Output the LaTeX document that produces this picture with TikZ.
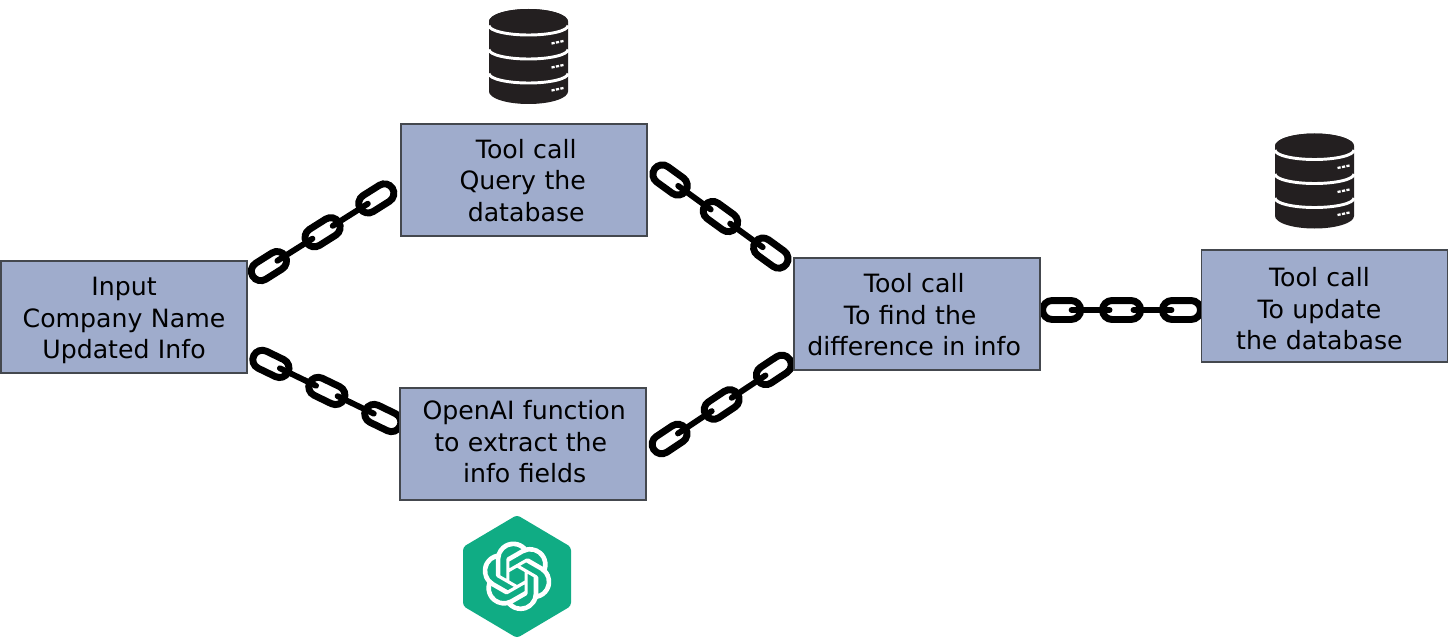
\documentclass[tikz,border=0pt]{standalone}
\usepackage{fontspec}
\setmainfont{DejaVu Sans}
\usetikzlibrary{calc,shapes.misc,svg.path}
\definecolor{boxfill}{HTML}{9FACCC}
\definecolor{boxline}{HTML}{44484E}
\definecolor{dbdark}{HTML}{231F20}
\definecolor{aigreen}{HTML}{10AC84}
\newcommand\ydy{0pt}
\newcommand\shl[2]{\raisebox{\ydy}[\height][\depth]{\makebox[0pt]{\kern\dimexpr #1pt*3/2\relax #2}}}
\newcommand\chainconn[2]{%
  \path (#1) -- node[pos=0,sloped,chainlink] (#1-a) {} node[pos=.5,sloped,chainlink] (#1-b) {} node[pos=1,sloped,chainlink] (#1-c) {} (#2);
  \draw[chainbar] ($(#1)!7.5pt!(#2)$) -- ($(#1)!.5!(#2)!9pt!(#1)$);
  \draw[chainbar] ($(#1)!.5!(#2)!9pt!(#2)$) -- ($(#2)!7.5pt!(#1)$);
}
\tikzset{
  x=.75pt,y=-.75pt,
  flowbox/.style={draw=boxline,fill=boxfill,line width=1.35pt,inner sep=0pt,minimum width=184.5pt,minimum height=84pt,text width=184.5pt,align=center,font=\fontsize{18.9}{23.6}\selectfont},
  chainlink/.style={draw=black,fill=white,line width=5.2pt,shape=rounded rectangle,inner sep=0pt,minimum width=28.6pt,minimum height=14.2pt},
  chainbar/.style={draw=black,line width=4.4pt,line cap=round},
  dbgap/.style={draw=white,line width=2.2pt},
  dbdots/.style={draw=white,line width=1.7pt,dash pattern=on 2.4pt off 1pt},
  pics/database/.style={code={
    \fill[dbdark] (-39.5,-35) arc (180:360:39.5 and 12.5) -- (39.5,35) arc (0:180:39.5 and 12.5) -- cycle;
    \fill[dbdark] (0,-35) ellipse (39.5 and 12.5);
    \draw[dbgap] (-39.5,-31) arc (180:0:39.5 and 9.5);
    \draw[dbgap] (-39.5,-7) arc (180:0:39.5 and 9.5);
    \draw[dbgap] (-39.5,17) arc (180:0:39.5 and 9.5);
    \draw[dbdots] (23,-13) -- (35,-15.5);
    \draw[dbdots] (23,11) -- (35,8.5);
    \draw[dbdots] (23,34) -- (35,31.5);
  }},
}
\begin{document}
\begin{tikzpicture}
\useasboundingbox (0,0) rectangle (1448,638);
\coordinate (inputpos) at (124,317);
\coordinate (querypos) at (524.2,180);
\coordinate (extractpos) at (522.7,444);
\coordinate (findpos) at (916.7,314);
\coordinate (updatepos) at (1324.4,306);

\path[overlay] (inputpos) node[flowbox,draw=none,fill=none] (input0) {}
  (querypos) node[flowbox,draw=none,fill=none] (query0) {}
  (extractpos) node[flowbox,draw=none,fill=none] (extract0) {}
  (findpos) node[flowbox,draw=none,fill=none] (find0) {}
  (updatepos) node[flowbox,draw=none,fill=none] (update0) {};

\coordinate (c1a) at ($(input0.north east)+(21,6)$);
\coordinate (c1b) at ($(query0.south west)+(-24,-38.5)$);
\coordinate (c2a) at ($(query0.east)+(22,0)$);
\coordinate (c2b) at ($(find0.north west)+(-22,-4)$);
\coordinate (c3a) at ($(input0.south east)+(23,-10)$);
\coordinate (c3b) at ($(extract0.west)+(-16,-26)$);
\coordinate (c4a) at ($(extract0.east)+(23,-5)$);
\coordinate (c4b) at ($(find0.south west)+(-19,-1)$);
\coordinate (c5a) at ($(find0.east)+(21,-4)$);
\coordinate (c5b) at ($(update0.west)+(-19,4)$);

\chainconn{c1a}{c1b}
\chainconn{c2a}{c2b}
\chainconn{c3a}{c3b}
\chainconn{c4a}{c4b}
\chainconn{c5a}{c5b}

\renewcommand\ydy{-2.6pt}
\node[flowbox] (input) at (inputpos) {\shl{0}{Input}\\\shl{0}{Company Name}\\\shl{0}{Updated Info}};
\renewcommand\ydy{-.4pt}
\node[flowbox] (query) at (querypos) {\shl{2}{Tool call}\\\shl{-1.5}{Query the}\\\shl{2}{database}};
\renewcommand\ydy{1.5pt}
\node[flowbox] (extract) at (extractpos) {\shl{1.5}{OpenAI function}\\\shl{-2}{to extract the}\\\shl{2}{info fields}};
\renewcommand\ydy{-.75pt}
\node[flowbox] (find) at (findpos) {\shl{-2.5}{Tool call}\\\shl{-6.5}{To find the}\\\shl{-2.5}{difference in info}};
\renewcommand\ydy{-2.25pt}
\node[flowbox] (update) at (updatepos) {\shl{-5}{Tool call}\\\shl{-5}{To update}\\\shl{-5}{the database}};

\pic (dbone) at (528.5,56.5) {database};
\pic (dbtwo) at (1314.5,181) {database};

\fill[aigreen,rounded corners=2.5pt] (517,515) -- (571,547) -- (571,606) -- (517,638) -- (463,606) -- (463,547) -- cycle;
\begin{scope}[shift={(482.2,541.5)},scale=2.175,yscale=-1]
\fill[white,even odd rule] svg "M22.2819 9.8211a5.9847 5.9847 0 0 0-.5157-4.9108 6.0462 6.0462 0 0 0-6.5098-2.9A6.0651 6.0651 0 0 0 4.9807 4.1818a5.9847 5.9847 0 0 0-3.9977 2.9 6.0462 6.0462 0 0 0 .7427 7.0966 5.98 5.98 0 0 0 .511 4.9107 6.051 6.051 0 0 0 6.5146 2.9001A5.9847 5.9847 0 0 0 13.2599 24a6.0557 6.0557 0 0 0 5.7718-4.2058 5.9894 5.9894 0 0 0 3.9977-2.9001 6.0557 6.0557 0 0 0-.7475-7.0729zM13.2599 22.4292a4.4755 4.4755 0 0 1-2.8764-1.0408l.1419-.0804 4.7783-2.7582a.7948.7948 0 0 0 .3927-.6813v-6.7369l2.02 1.1686a.071.071 0 0 1 .038.052v5.5826a4.504 4.504 0 0 1-4.4945 4.4944zM3.5992 18.3038a4.4708 4.4708 0 0 1-.5346-3.0137l.142.0852 4.783 2.7582a.7712.7712 0 0 0 .7806 0l5.8428-3.3685v2.3324a.0804.0804 0 0 1-.0332.0615L9.74 19.9502a4.4992 4.4992 0 0 1-6.1408-1.6464zM2.3408 7.8956a4.485 4.485 0 0 1 2.3655-1.9728V11.6a.7664.7664 0 0 0 .3879.6765l5.8144 3.3543-2.0201 1.1685a.0757.0757 0 0 1-.071 0l-4.8303-2.7865A4.504 4.504 0 0 1 2.3408 7.872zM18.9371 11.7514L13.1038 8.364 15.1192 7.2a.0757.0757 0 0 1 .071 0l4.8303 2.7913a4.4944 4.4944 0 0 1-.6765 8.1042v-5.6772a.79.79 0 0 0-.407-.667zM20.9478 8.7283l-.142-.0852-4.7735-2.7818a.7759.7759 0 0 0-.7854 0L9.409 9.2297V6.8974a.0662.0662 0 0 1 .0284-.0615l4.8303-2.7866a4.4992 4.4992 0 0 1 6.6802 4.66zM8.3065 12.863l-2.02-1.1638a.0804.0804 0 0 1-.038-.0567V6.0742a4.4992 4.4992 0 0 1 7.3757-3.4537l-.142.0805L8.704 5.459a.7948.7948 0 0 0-.3927.6813zM9.4041 10.4976l2.602-1.4998 2.6069 1.4998v2.9994l-2.5974 1.4997-2.6067-1.4997Z";
\end{scope}
\end{tikzpicture}
\end{document}
